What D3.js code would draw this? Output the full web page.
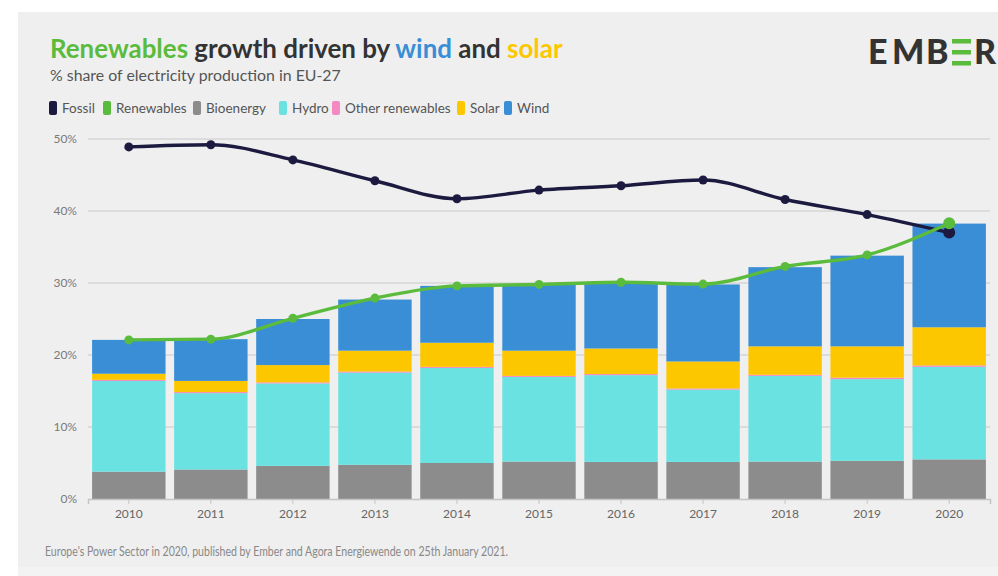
<!DOCTYPE html>
<html><head><meta charset="utf-8">
<script src="https://cdn.jsdelivr.net/npm/d3@7"></script>
<style>
html,body{margin:0;padding:0;background:#fff;}
svg{display:block;}
</style></head>
<body>
<svg id="chart" width="998" height="576"></svg>
<script>
const years = ["2010","2011","2012","2013","2014","2015","2016","2017","2018","2019","2020"];
const bioenergy = [3.8, 4.1, 4.6, 4.75, 5.0, 5.2, 5.15, 5.15, 5.2, 5.3, 5.5];
const hydro = [12.6, 10.6, 11.45, 12.8, 13.2, 11.75, 12.05, 10.05, 11.9, 11.35, 12.85];
const otherRenewables = [0.15, 0.15, 0.15, 0.15, 0.15, 0.15, 0.15, 0.15, 0.15, 0.2, 0.2];
const solar = [0.85, 1.55, 2.4, 2.9, 3.35, 3.5, 3.55, 3.75, 3.95, 4.35, 5.3];
const wind = [4.7, 5.8, 6.4, 7.1, 7.9, 9.2, 9.15, 10.7, 11.0, 12.6, 14.4];
const renewables = [22.1, 22.2, 25.1, 27.9, 29.6, 29.8, 30.1, 29.85, 32.3, 33.9, 38.3];
const fossil = [48.9, 49.2, 47.1, 44.2, 41.7, 42.9, 43.5, 44.3, 41.6, 39.5, 37.0];
const yTicks = [0, 10, 20, 30, 40, 50];
const legendItems = ["Fossil","Renewables","Bioenergy","Hydro","Other renewables","Solar","Wind"];

const colors = {
  "Fossil":"#1d1a40","Renewables":"#5bbb3c","Bioenergy":"#8c8c8c","Hydro":"#6ae2e2",
  "Other renewables":"#f58ac2","Solar":"#fdc700","Wind":"#3a8ed5"
};
const stackKeys = ["Bioenergy","Hydro","Other renewables","Solar","Wind"];
const stackArrays = {"Bioenergy":bioenergy,"Hydro":hydro,"Other renewables":otherRenewables,"Solar":solar,"Wind":wind};
const table = years.map((y,i)=>{const o={year:y}; stackKeys.forEach(k=>o[k]=stackArrays[k][i]); return o;});

const svg = d3.select("#chart");
const font = "Lato, 'Open Sans', sans-serif";

function fitWidth(sel, target){
  const w = sel.node().getComputedTextLength();
  const fs = +sel.attr("font-size");
  sel.attr("font-size", fs*target/w);
}

// panel
svg.append("rect").attr("x",18).attr("y",12).attr("width",980).attr("height",564).attr("fill","#f3f3f3");
svg.append("rect").attr("x",18).attr("y",12).attr("width",980).attr("height",555).attr("fill","#efefef");

const x = d3.scaleBand().domain(years).range([88, 990]).paddingInner(0.105).paddingOuter(0.05);
const y = d3.scaleLinear().domain([0, 50]).range([499, 139]);

// gridlines
svg.append("g").selectAll("line").data(yTicks.filter(t=>t>0)).join("line")
  .attr("x1",88).attr("x2",990).attr("y1",d=>y(d)).attr("y2",d=>y(d))
  .attr("stroke","#d6d6d6").attr("stroke-width",1.5);

// y labels
svg.append("g").selectAll("text").data(yTicks).join("text")
  .attr("x",77).attr("y",d=>y(d)+4).attr("text-anchor","end")
  .attr("font-family",font).attr("font-size",12).attr("fill","#7a7a7a").text(d=>d+"%");

// stacked bars
const series = d3.stack().keys(stackKeys)(table);
svg.append("g").selectAll("g").data(series).join("g")
  .attr("fill",d=>colors[d.key])
  .selectAll("rect").data(d=>d).join("rect")
  .attr("x",d=>x(d.data.year)).attr("width",x.bandwidth())
  .attr("y",d=>y(d[1])).attr("height",d=>y(d[0])-y(d[1]));

// x axis
const xAxis = svg.append("g").attr("transform","translate(0,499)")
  .call(d3.axisBottom(x).tickSize(5).tickPadding(5));
xAxis.select(".domain").attr("stroke","#c4c4c4").attr("stroke-width",1.5);
xAxis.selectAll(".tick line").attr("stroke","#c4c4c4");
xAxis.selectAll(".tick text").attr("font-family",font).attr("font-size",12).attr("fill","#666");

// lines
const lineGen = d3.line().x((d,i)=>x(years[i])+x.bandwidth()/2).y(d=>y(d)).curve(d3.curveMonotoneX);
function drawLine(vals, color){
  svg.append("path").datum(vals).attr("d",lineGen).attr("fill","none")
    .attr("stroke",color).attr("stroke-width",3.4).attr("stroke-linejoin","round");
  svg.append("g").selectAll("circle").data(vals).join("circle")
    .attr("cx",(d,i)=>x(years[i])+x.bandwidth()/2).attr("cy",d=>y(d))
    .attr("r",(d,i)=>i===vals.length-1?6:4.5).attr("fill",color);
}
drawLine(fossil, colors["Fossil"]);
drawLine(renewables, colors["Renewables"]);

// title
const title = svg.append("text").attr("x",50).attr("y",58)
  .attr("font-family",font).attr("font-size",24).attr("font-weight",700);
[["Renewables",colors["Renewables"]],[" growth driven by ","#333"],["wind",colors["Wind"]],[" and ","#333"],["solar",colors["Solar"]]]
  .forEach(([t,c])=>title.append("tspan").attr("fill",c).text(t));
fitWidth(title, 513);

const sub = svg.append("text").attr("x",50).attr("y",81)
  .attr("font-family",font).attr("font-size",16).attr("fill","#555")
  .text("% share of electricity production in EU-27");
fitWidth(sub, 291);

// legend
const legendX = [49, 103, 193, 279, 332, 457, 504];
const lg = svg.append("g").selectAll("g").data(legendItems).join("g")
  .attr("transform",(d,i)=>`translate(${legendX[i]},101)`);
lg.append("rect").attr("width",8).attr("height",14).attr("rx",2).attr("fill",d=>colors[d]);
lg.append("text").attr("x",13).attr("y",12).attr("font-family",font).attr("font-size",13.5)
  .attr("fill","#555").text(d=>d);

// footer
svg.append("text").attr("x",45).attr("y",556).attr("font-family",font).attr("font-size",13.5)
  .attr("fill","#888").attr("textLength",463).attr("lengthAdjust","spacingAndGlyphs")
  .text("Europe's Power Sector in 2020, published by Ember and Agora Energiewende on 25th January 2021.");

// logo
const logo = svg.append("g");
const letters = [["E",868],["M",892],["B",926],["R",974]];
letters.forEach(([t,lx])=>{
  logo.append("text").attr("x",lx).attr("y",64).attr("font-family",font)
    .attr("font-size",34).attr("font-weight",900).attr("fill","#333").text(t);
});
[39, 50, 61].forEach(yy=>logo.append("rect").attr("x",952).attr("y",yy).attr("width",19).attr("height",4.5).attr("fill","#5bbb3c"));
</script>
</body></html>
